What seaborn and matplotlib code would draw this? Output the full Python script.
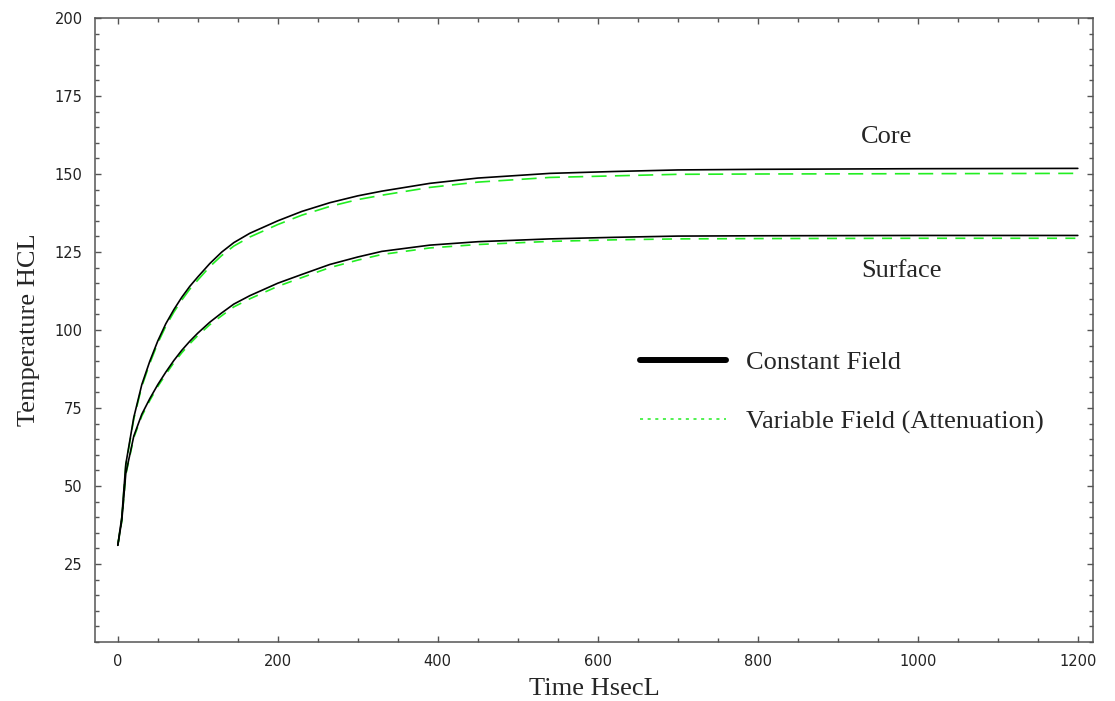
import matplotlib
matplotlib.use("Agg")
import matplotlib.pyplot as plt
import seaborn as sns
import pandas as pd
from matplotlib.lines import Line2D
from matplotlib.ticker import MultipleLocator

# ---------------- data ----------------
time_s = [0, 5, 10, 20, 30, 40, 50, 60, 70, 80, 90, 100, 115, 130, 145, 165, 200,
          230, 265, 300, 330, 390, 450, 540, 620, 700, 800, 1000, 1200]
core_constant = [31, 40, 57, 72, 82.5, 90, 96.5, 102, 106.5, 110.5, 114, 117, 121.3,
                 125, 128, 131, 135, 138, 140.8, 143, 144.5, 147, 148.7, 150.2, 150.8,
                 151.3, 151.5, 151.7, 151.8]
core_variable = [31, 39.8, 56.6, 71.5, 81.9, 89.3, 95.8, 101.2, 105.7, 109.6, 113.1,
                 116, 120.3, 123.9, 126.9, 129.8, 133.8, 136.8, 139.6, 141.8, 143.2,
                 145.7, 147.4, 148.9, 149.4, 149.9, 150.0, 150.1, 150.2]
surface_constant = [31, 39, 54, 66, 73, 78, 82.5, 86.5, 90.2, 93.5, 96.4, 99, 102.5,
                    105.5, 108.3, 111, 115, 117.8, 121, 123.4, 125.2, 127.2, 128.3,
                    129.2, 129.7, 130.1, 130.2, 130.3, 130.3]
surface_variable = [31, 38.8, 53.6, 65.5, 72.4, 77.4, 81.9, 85.8, 89.5, 92.7, 95.6,
                    98.2, 101.7, 104.6, 107.4, 110, 114, 116.8, 120, 122.4, 124.2,
                    126.3, 127.4, 128.4, 128.9, 129.2, 129.3, 129.4, 129.4]

legend_labels = ["Constant Field", "Variable Field (Attenuation)"]
curve_labels = ["Core", "Surface"]
x_label = "Time HsecL"
y_label = "Temperature HCL"

# ---------------- styling ----------------
sns.set_style("ticks")
plt.rcParams["font.family"] = ["DejaVu Sans"]
serif = "Liberation Serif"
spine_col = "#555555"
green = "#22ee22"

fig = plt.figure(figsize=(11.15, 7.01), dpi=100)
ax = fig.add_axes([95 / 1115, 1 - 642 / 701, (1093 - 95) / 1115, (642 - 18) / 701])

df = pd.DataFrame({"t": time_s, "cc": core_constant, "cv": core_variable,
                   "sc": surface_constant, "sv": surface_variable})

sns.lineplot(data=df, x="t", y="cv", ax=ax, color=green, lw=1.2,
             linestyle=(0, (9, 5)), estimator=None)
sns.lineplot(data=df, x="t", y="sv", ax=ax, color=green, lw=1.2,
             linestyle=(0, (6, 5)), estimator=None)
sns.lineplot(data=df, x="t", y="cc", ax=ax, color="black", lw=1.2, estimator=None)
sns.lineplot(data=df, x="t", y="sc", ax=ax, color="black", lw=1.2, estimator=None)

ax.set_xlim(-28.5, 1219)
ax.set_ylim(0, 200)
ax.xaxis.set_major_locator(MultipleLocator(200))
ax.xaxis.set_minor_locator(MultipleLocator(50))
ax.set_yticks([25, 50, 75, 100, 125, 150, 175, 200])
ax.yaxis.set_minor_locator(MultipleLocator(5))

ax.tick_params(which="both", direction="in", top=True, right=True,
               color=spine_col, width=1.0, labelsize=10.5, labelcolor="#222222")
ax.tick_params(which="major", length=4.5, pad=9)
ax.tick_params(which="minor", length=3)
for s in ax.spines.values():
    s.set_color(spine_col)
    s.set_linewidth(1.1)

ax.set_xlabel(x_label, family=serif, fontsize=19, labelpad=6)
ax.set_ylabel(y_label, family=serif, fontsize=19, labelpad=10)

ax.text(961, 162, curve_labels[0], family=serif, fontsize=19, ha="center", va="center")
ax.text(980, 119, curve_labels[1], family=serif, fontsize=19, ha="center", va="center")

handles = [Line2D([], [], color="black", lw=4.3, solid_capstyle="round"),
           Line2D([], [], color=green, lw=1.1, linestyle=(0, (2, 3)))]
ax.legend(handles, legend_labels, loc="center left",
          bbox_to_anchor=(640 / 1115, 1 - 392.5 / 701), bbox_transform=fig.transFigure,
          frameon=False, prop={"family": serif, "size": 19},
          handlelength=3.26, handletextpad=0.76, labelspacing=1.35,
          borderpad=0, borderaxespad=0)

fig.savefig("out.png", dpi=100)
